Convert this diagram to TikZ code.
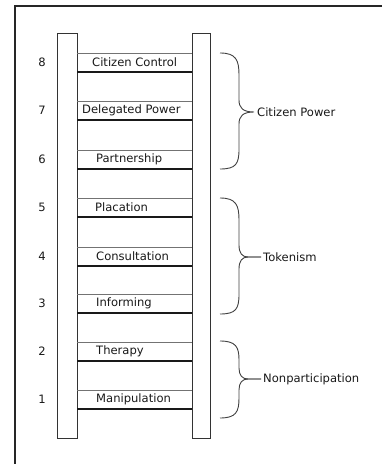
\documentclass[tikz,border=0pt]{standalone}
\usepackage{fontspec}
\setmainfont{DejaVu Sans}
\begin{document}
\begin{tikzpicture}[x=1bp,y=-1bp,
  lbl/.style={font=\fontsize{11.6}{13}\selectfont, inner sep=0pt, text=black!90},
  rail/.style={draw=black!80, line width=1.1bp, fill=white},
  rungtop/.style={draw=black!55, line width=0.9bp},
  rungbot/.style={draw=black!90, line width=1.1bp},
  bracestyle/.style={draw=black!75, line width=0.9bp}]
\useasboundingbox (0,0) rectangle (382,464);
% frame
\coordinate (f1) at (382,6);
\coordinate (f2) at (15,6);
\coordinate (f3) at (15,464);
\draw[black!85, line width=1.2bp] (f1) -- (f2) -- (f3);
% rails
\node[rail, minimum width=20bp, minimum height=405bp, inner sep=0pt, anchor=north west] (lrail) at (57,33) {};
\node[rail, minimum width=18bp, minimum height=405bp, inner sep=0pt, anchor=north west] (rrail) at (192,33) {};
% rungs
\foreach \t/\n/\name/\lx in {53/8/Citizen Control/92, 101/7/Delegated Power/82, 150/6/Partnership/96, 198/5/Placation/95, 247/4/Consultation/96, 294/3/Informing/96, 342/2/Therapy/96, 390/1/Manipulation/96}{
  \coordinate (a\n) at (77,\t);
  \coordinate (b\n) at (192,\t);
  \coordinate (c\n) at (77,\t+19);
  \coordinate (d\n) at (192,\t+19);
  \draw[rungtop] (a\n) -- (b\n);
  \draw[rungbot] (c\n) -- (d\n);
  \node[lbl, anchor=west] (r\n) at (\lx,\t+9.5) {\name};
  \node[lbl] (n\n) at (42,\t+9.5) {\n};
}
% braces
\coordinate (cpt) at (220,53);
\coordinate (cpb) at (220,169);
\coordinate (cptip) at (254,112);
\draw[bracestyle] (cpt) .. controls (236,53) and (239,60) .. (239,75)
  -- (239,100) .. controls (239,108) and (243,112) .. (cptip)
  .. controls (243,112) and (239,116) .. (239,124)
  -- (239,149) .. controls (239,164) and (236,169) .. (cpb);
\node[lbl, anchor=west] (cp) at (257,112) {Citizen Power};

\coordinate (tkt) at (220,198);
\coordinate (tkb) at (220,314);
\coordinate (tktip) at (261,257);
\draw[bracestyle] (tkt) .. controls (236,198) and (239,205) .. (239,220)
  -- (239,245) .. controls (239,253) and (242,257) .. (248,257) -- (tktip);
\draw[bracestyle] (tktip) -- (248,257) .. controls (242,257) and (239,261) .. (239,269)
  -- (239,294) .. controls (239,309) and (236,314) .. (tkb);
\node[lbl, anchor=west] (tk) at (263,257) {Tokenism};

\coordinate (npt) at (220,341);
\coordinate (npb) at (220,418);
\coordinate (nptip) at (261,379);
\draw[bracestyle] (npt) .. controls (236,341) and (239,347) .. (239,360)
  -- (239,368) .. controls (239,375) and (242,379) .. (248,379) -- (nptip);
\draw[bracestyle] (nptip) -- (248,379) .. controls (242,379) and (239,383) .. (239,390)
  -- (239,398) .. controls (239,412) and (236,418) .. (npb);
\node[lbl, anchor=west] (np) at (263,379) {Nonparticipation};
\end{tikzpicture}
\end{document}
